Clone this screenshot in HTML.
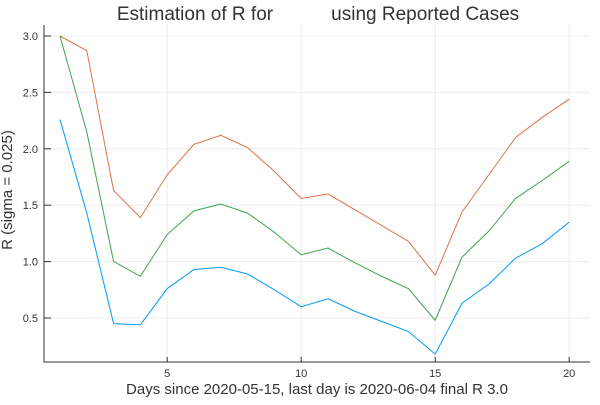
<!DOCTYPE html>
<html><head><meta charset="utf-8"><style>
body{margin:0;background:#fff;font-family:"Liberation Sans",sans-serif}
</style></head><body>
<svg id="c" width="600" height="400" xmlns="http://www.w3.org/2000/svg" font-family="Liberation Sans, sans-serif">
<text x="318" y="20" font-size="19" fill="#333" text-anchor="middle" style="white-space:pre" xml:space="preserve">Estimation of R for           using Reported Cases</text>
<text x="317" y="394" font-size="15" fill="#333" text-anchor="middle">Days since 2020-05-15, last day is 2020-06-04 final R 3.0</text>
<text transform="translate(12,190) rotate(-90)" font-size="15" fill="#333" text-anchor="middle">R (sigma = 0.025)</text>
<g id="grid"></g><g id="axes"></g><g id="series"></g>
</svg>
<script>
const days=[1,2,3,4,5,6,7,8,9,10,11,12,13,14,15,16,17,18,19,20];
const upper=[3.0,2.87,1.63,1.39,1.77,2.04,2.12,2.01,1.80,1.56,1.60,1.46,1.32,1.18,0.88,1.44,1.77,2.10,2.28,2.44];
const middle=[3.0,2.15,1.0,0.87,1.24,1.45,1.51,1.43,1.26,1.06,1.12,0.99,0.87,0.76,0.48,1.04,1.27,1.56,1.72,1.89];
const lower=[2.26,1.43,0.45,0.44,0.76,0.93,0.95,0.89,0.75,0.60,0.67,0.56,0.47,0.38,0.18,0.63,0.80,1.03,1.16,1.35];
const xTicks=[5,10,15,20];
const yTicks=[0.5,1.0,1.5,2.0,2.5,3.0];
const L=44,R=590,T=25,B=362;
const sx=v=>60+(v-1)*26.8;
const sy=v=>318-(v-0.5)*112.8;
const NS="http://www.w3.org/2000/svg";
function mk(tag,attrs,parent){const e=document.createElementNS(NS,tag);for(const k in attrs)e.setAttribute(k,attrs[k]);parent.appendChild(e);return e;}
const grid=document.getElementById('grid'),axes=document.getElementById('axes'),ser=document.getElementById('series');
xTicks.forEach(t=>{
 const g=mk('line',{x1:sx(t),x2:sx(t),y1:T,y2:B,stroke:'#ececec','stroke-width':1},grid);
 
 
 const tk=mk('line',{x1:sx(t),x2:sx(t),y1:B,y2:B-5,stroke:'#333'},axes);
 
 
 const lb=mk('text',{x:sx(t),y:B+15,'font-size':11,fill:'#333','text-anchor':'middle'},axes);
 lb.textContent=t;
 
 
});
yTicks.forEach(t=>{
 const g=mk('line',{x1:L,x2:R,y1:sy(t),y2:sy(t),stroke:'#ececec','stroke-width':1},grid);
 
 
 const tk=mk('line',{x1:L,x2:L+7,y1:sy(t),y2:sy(t),stroke:'#333'},axes);
 
 
 const lb=mk('text',{x:L-6,y:sy(t)+4,'font-size':11,fill:'#333','text-anchor':'end'},axes);
 lb.textContent=t.toFixed(1);
 
 
});
const ax=mk('path',{d:`M${L},${T} V${B} H${R}`,fill:'none',stroke:'#333','stroke-width':1},axes);


[[upper,'#e26f46','upper-series-line'],[middle,'#3da44d','middle-series-line'],[lower,'#009af9','lower-series-line']].forEach(([vals,col,name])=>{
 const p=mk('polyline',{points:days.map((d,i)=>sx(d)+','+sy(vals[i])).join(' '),fill:'none',stroke:col,'stroke-width':1},ser);
 
 
});
</script>
</body></html>
